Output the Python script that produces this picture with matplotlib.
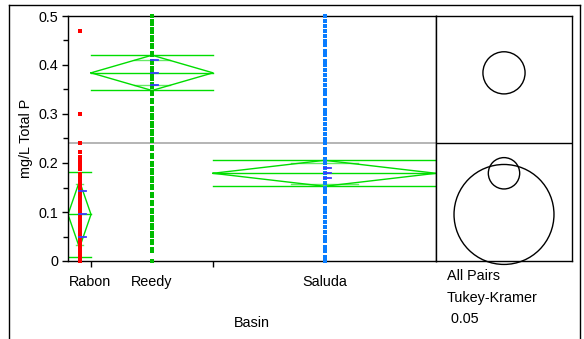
import numpy as np
import matplotlib
matplotlib.use('Agg')
import matplotlib.pyplot as plt
from matplotlib.patches import Circle
from matplotlib.lines import Line2D

plt.rcParams['font.family'] = ['Liberation Sans', 'DejaVu Sans']

# === DATA ===
basins = ['Rabon', 'Reedy', 'Saluda']
basin_n = [23, 122, 223]          # group widths on the x axis ~ sample sizes

rabon_tp = [0.000, 0.006, 0.012, 0.018, 0.024, 0.030, 0.036, 0.042, 0.048, 0.054,
            0.060, 0.066, 0.072, 0.078, 0.084, 0.090, 0.096, 0.102, 0.108, 0.114,
            0.120, 0.126, 0.132, 0.138, 0.144, 0.150, 0.156, 0.162, 0.170, 0.178,
            0.187, 0.196, 0.205, 0.213, 0.222, 0.241, 0.300, 0.470]
reedy_tp = [0.000, 0.020, 0.025, 0.036, 0.041, 0.052, 0.057, 0.068, 0.073, 0.084,
            0.089, 0.100, 0.105, 0.116, 0.121, 0.132, 0.137, 0.148, 0.153, 0.164,
            0.169, 0.180, 0.185, 0.196, 0.201, 0.212, 0.217, 0.228, 0.233, 0.244,
            0.249, 0.260, 0.265, 0.276, 0.281, 0.292, 0.297, 0.308, 0.313, 0.324,
            0.329, 0.340, 0.345, 0.356, 0.361, 0.372, 0.377, 0.388, 0.393, 0.404,
            0.409, 0.420, 0.425, 0.436, 0.441, 0.452, 0.457, 0.468, 0.473, 0.484,
            0.489, 0.500]
saluda_tp = [0.000, 0.009, 0.020, 0.029, 0.040, 0.049, 0.060, 0.069, 0.080, 0.089,
             0.100, 0.109, 0.120, 0.129, 0.140, 0.149, 0.160, 0.169, 0.180, 0.189,
             0.200, 0.209, 0.220, 0.229, 0.240, 0.249, 0.260, 0.269, 0.280, 0.289,
             0.300, 0.309, 0.320, 0.329, 0.340, 0.349, 0.360, 0.369, 0.380, 0.389,
             0.400, 0.409, 0.420, 0.429, 0.440, 0.449, 0.460, 0.469, 0.480, 0.489,
             0.500]

group_mean = [0.095, 0.384, 0.179]
ci_half = [0.068, 0.036, 0.0265]        # means diamond top / bottom
overlap_half = [0.062, 0.0255, 0.022]   # overlap marks
line_half = [0.086, 0.036, 0.0265]      # full-width lines
se_half = [0.047, 0.0255, 0.010]        # blue error marks
grand_mean = 0.2415
circle_radius = [0.102, 0.043, 0.032]   # Tukey-Kramer comparison circles

values = [rabon_tp, reedy_tp, saluda_tp]
point_colors = ['#ff0000', '#00bb00', '#0a7dff']
green = '#00dd00'

# === FIGURE ===
W, H = 584, 339
fig = plt.figure(figsize=(W / 100, H / 100), dpi=100)

def box(x0, y0, x1, y1):
    return [x0 / W, 1 - y1 / H, (x1 - x0) / W, (y1 - y0) / H]

ax = fig.add_axes(box(68, 16, 436, 261))
ax2 = fig.add_axes(box(436, 16, 572, 261))

edges = np.concatenate([[0], np.cumsum(basin_n)])
centers = (edges[:-1] + edges[1:]) / 2
ax.set_xlim(0, edges[-1])
ax.set_ylim(0, 0.5)
unit = edges[-1] / 368.0   # data units per pixel along x

ax.axhline(grand_mean, color='#a8a8a8', lw=1.2, zorder=1)

for i in range(3):
    l, r, c = edges[i], edges[i + 1], centers[i]
    m, h = group_mean[i], ci_half[i]
    w = r - l
    ax.plot([l, c, r, c, l], [m, m + h, m, m - h, m], color=green, lw=1, zorder=2)
    ax.plot([l, r], [m, m], color=green, lw=1, zorder=2)
    for s in (-1, 1):
        ax.plot([l, r], [m + s * line_half[i]] * 2, color=green, lw=1, zorder=2)
        ax.plot([c - 0.15 * w, c + 0.15 * w], [m + s * overlap_half[i]] * 2,
                color=green, lw=1, alpha=0.6, zorder=2)
    ax.plot([c] * len(values[i]), values[i], 's', ms=3.3, mew=0,
            color=point_colors[i], zorder=3, clip_on=False)
    for yy in (m - se_half[i], m, m + se_half[i]):
        ax.plot([c - 1 * unit, c + 6 * unit], [yy, yy], color='#3a3aff',
                lw=1.3, zorder=4)

ax.set_yticks(np.arange(0, 0.51, 0.1))
ax.set_yticklabels(['0', '0.1', '0.2', '0.3', '0.4', '0.5'])
ax.set_yticks(np.arange(0.05, 0.5, 0.1), minor=True)
ax.tick_params(axis='y', which='major', direction='out', length=4.3, width=1,
               pad=2.9, labelsize=10.4)
ax.tick_params(axis='y', which='minor', direction='out', length=3.6, width=1)
ax.set_xticks(edges[1:-1])
ax.set_xticklabels([])
ax.tick_params(axis='x', direction='out', length=4.3, width=1)
for sp in ax.spines.values():
    sp.set_linewidth(1)

# comparison circles panel
ax2.set_xlim(0, 136 / 490.0)
ax2.set_ylim(0, 0.5)
ax2.set_xticks([])
ax2.set_yticks([])
for sp in ax2.spines.values():
    sp.set_linewidth(1)
ax2.axhline(grand_mean, color='black', lw=1)
for i in range(3):
    ax2.add_patch(Circle((68 / 490.0, group_mean[i]), circle_radius[i], fill=False,
                         ec='black', lw=1, clip_on=False))

# category labels
for i, name in enumerate(basins):
    xp = 68 + centers[i] / edges[-1] * 368
    if i == 0:
        fig.text(69 / W, 1 - 286 / H, name, ha='left', va='baseline', fontsize=10.4)
    else:
        fig.text(xp / W, 1 - 286 / H, name, ha='center', va='baseline', fontsize=10.4)

fig.text(26 / W, 1 - 138.5 / H, 'mg/L Total P', rotation=90, ha='center',
         va='center', fontsize=10.4)
fig.text(252 / W, 1 - 327 / H, 'Basin', ha='center', va='baseline', fontsize=10.4)
fig.text(446.7 / W, 1 - 280 / H, 'All Pairs', ha='left', va='baseline', fontsize=10.4)
fig.text(446.7 / W, 1 - 301.7 / H, 'Tukey-Kramer', ha='left', va='baseline', fontsize=10.4)
fig.text(446.7 / W, 1 - 323.3 / H, ' 0.05', ha='left', va='baseline', fontsize=10.4)

# outer report frame
for xs, ys in [([9, 9], [5, 345]), ([9, 580], [5, 5]), ([580, 580], [5, 345])]:
    fig.add_artist(Line2D([x / W for x in xs], [1 - y / H for y in ys],
                          color='black', lw=1))

fig.savefig('out.png', dpi=100)
